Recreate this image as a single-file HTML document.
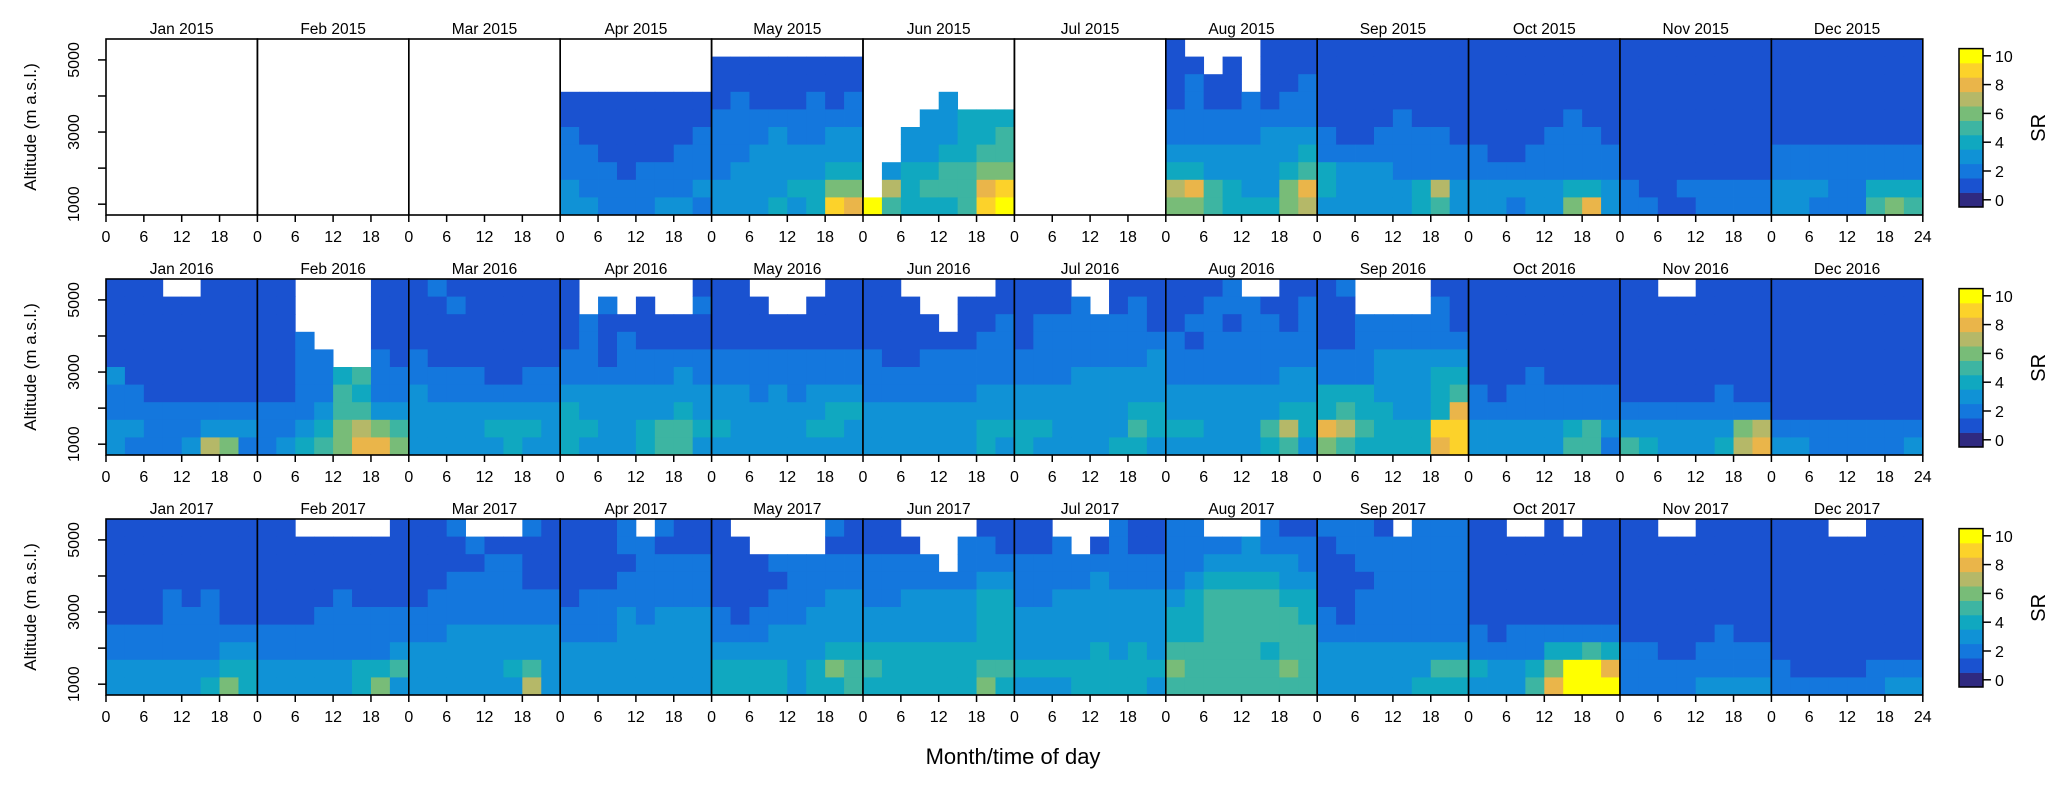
<!DOCTYPE html>
<html><head><meta charset="utf-8"><title>SR altitude/time heatmaps</title>
<style>
html,body{margin:0;padding:0;background:#fff;}
svg{display:block;font-family:"Liberation Sans",Arial,sans-serif;}
</style></head>
<body>
<svg id="chart" width="2067" height="796" viewBox="0 0 2067 796" xmlns="http://www.w3.org/2000/svg"></svg>
<script>
// ---- data ----
const years = [2015, 2016, 2017];
const months = ["Jan","Feb","Mar","Apr","May","Jun","Jul","Aug","Sep","Oct","Nov","Dec"];
const hourTicks = [0, 6, 12, 18];
const altTicks = [1000, 2000, 3000, 4000, 5000];
const altLabels = [1000, 3000, 5000];
const srTicks = [0, 2, 4, 6, 8, 10];
const srColors = ["#2f2a80","#1a52d0","#1477dd","#1092d6","#10a8c0","#3db5a2","#78bc78","#b5b868","#eab54a","#fcd22a","#ffff00"];
// each panel: 10 altitude levels (top -> bottom), 8 time blocks of 3h; digit = SR, a = 10, . = missing
const data2015 = [
 null, null, null,
 ["........","........","........","11111111","11111111","21111112","22111122","22212222","32222223","33222332"],
 ["........","11111111","11111111","12111212","22222222","22232233","22333333","23333344","33334466","33343498"],
 ["........","........","........","....3...","...33444","..333445","..334455",".3445566",".7455589","a544459a"],
 null,
 ["1....111","11.1.111","1211.112","12112122","22222222","22222333","33333334","44333345","78543368","66544467"],
 ["11111111","11111111","11111111","11111111","11112111","21122221","22222222","43332222","43333473","33333453"],
 ["11111111","11111111","11111111","11111111","11111211","11112221","21122222","22222222","33333443","33233683"],
 ["11111111","11111111","11111111","11111111","11111111","11111111","11111111","11111111","21122222","22112222"],
 ["11111111","11111111","11111111","11111111","11111111","11111111","22222222","22222222","33322444","33222565"]
];
const data2016 = [
 ["111..111","11111111","11111111","11111111","11111111","31111111","22111111","22222222","33222333","32223762"],
 ["11....11","11....11","11....11","112...11","1122..21","11224522","11225422","22235533","22346765","23456886"],
 ["12111111","11211111","11111111","11111111","21111111","22221122","32222222","33333333","33334443","33333433"],
 ["1......1","1.2.1..2","12111111","12121111","22122222","22222232","33333333","43333343","44334554","43334553"],
 ["11....11","111..111","11111111","11111111","22222222","22222222","33232333","33333344","43333443","33333333"],
 ["11.....1","111..111","1111.112","11111122","21122222","22222222","22222233","33333333","33333344","33333343"],
 ["111..111","1112.121","12222221","12222222","22222223","22233333","33333333","33333344","44333354","43333443"],
 ["1112..11","11222112","12212212","21222222","22222222","22222233","33333333","33333344","44333574","33333453"],
 ["12....11","11....21","11222221","11222222","22233333","22233344","44433345","45443348","87544499","65444489"],
 ["11111111","11111111","11111111","11111111","11111111","11121111","21222222","22222222","33333453","33333552"],
 ["11..1111","11111111","11111111","11111111","11111111","11111111","11111211","22222222","33333367","54333478"],
 ["11111111","11111111","11111111","11111111","11111111","11111111","11111111","11111111","22222222","33222223"]
];
const data2017 = [
 ["11111111","11111111","11111111","11111111","11121211","11122211","22222222","22222233","33333344","33333464"],
 ["11.....1","11111111","11111111","11111111","11112111","11122222","22222222","22222223","33333445","33333463"],
 ["112...21","11121111","11112211","11222211","12222222","22222222","22333333","33333333","33333453","33333373"],
 ["1112.211","11122111","11112222","11122222","12222222","22232333","22233333","33333333","33333333","33333333"],
 ["1.....21","11....11","11122222","11112222","11122233","21222333","22233333","33333344","44443465","44443445"],
 ["11....11","111..221","2222.222","22222233","22333344","33333344","33333344","44444444","54444455","44444464"],
 ["11...211","112.1211","22222222","22223222","22333333","33333333","33333333","33334343","44444444","33344443"],
 ["22...211","22223222","22333332","23444433","34555544","44555554","44555555","55555455","65555565","55555555"],
 ["2221.222","12222222","11222222","11122222","11222222","21222222","22222222","33333333","33333355","33333444"],
 ["11..1.11","11111111","11111111","11111111","11111111","11111111","21222222","22224454","43346aa8","33358aaa"],
 ["11..1111","11111111","11111111","11111111","11111111","11111111","11111211","22112222","22222222","22223333"],
 ["111..111","11111111","11111111","11111111","11111111","11111111","11111111","11111111","21111222","22222233"]
];
const allData = [data2015, data2016, data2017];

// ---- geometry ----
const NS = "http://www.w3.org/2000/svg";
const svg = document.getElementById("chart");
const X0 = 106, PW = 151.4, PH = 176;
const rowTop = [39, 279, 519];
const ALT_MIN = 700, ALT_MAX = 5580, HOURS = 24;
function xScale(m, h){ return X0 + m*PW + h/HOURS*PW; }
function yScale(r, alt){ return rowTop[r] + PH - (alt-ALT_MIN)/(ALT_MAX-ALT_MIN)*PH; }
function mk(tag, attrs, parent){ const e=document.createElementNS(NS,tag); for(const k in attrs) e.setAttribute(k, attrs[k]); (parent||svg).appendChild(e); return e; }
function val(ch){ return ch==="a" ? 10 : parseInt(ch,10); }

allData.forEach((rowData, r) => {
  const rowG = mk("g", {});
  
  
  rowData.forEach((grid, m) => {
    const g = mk("g", {}, rowG);
    
    
    if (grid) {
      const nLev = grid.length, levH = (ALT_MAX-ALT_MIN)/nLev;
      grid.forEach((rowStr, li) => {
        const altTop = ALT_MAX - li*levH, altBot = altTop - levH;
        const nT = rowStr.length, tW = HOURS/nT;
        for (let ti=0; ti<nT; ti++) {
          const ch = rowStr[ti];
          if (ch === ".") continue;
          const x1 = xScale(m, ti*tW), x2 = xScale(m, (ti+1)*tW);
          const y1 = yScale(r, altTop), y2 = yScale(r, altBot);
          const c = mk("rect", {x:x1.toFixed(2), y:y1.toFixed(2), width:(x2-x1+0.4).toFixed(2), height:(y2-y1+0.4).toFixed(2), fill:srColors[val(ch)]}, g);
          
          
        }
      });
    }
    const fr = mk("rect", {x:xScale(m,0), y:rowTop[r], width:PW, height:PH, fill:"none", stroke:"#000", "stroke-width":1.6}, g);
    
    
    const t = mk("text", {x:xScale(m,12), y:rowTop[r]-5, "text-anchor":"middle", "font-size":15.5, fill:"#000"}, g);
    t.textContent = months[m] + " " + years[r];
    
    
    const ticks = m === 11 ? hourTicks.concat([24]) : hourTicks;
    ticks.forEach(h => {
      const x = xScale(m, h), yb = rowTop[r]+PH;
      const tl = mk("line", {x1:x, x2:x, y1:yb, y2:yb+7, stroke:"#000", "stroke-width":1.5}, g);
      
      
      const tx = mk("text", {x:x, y:yb+27, "text-anchor":"middle", "font-size":16, fill:"#000"}, g);
      tx.textContent = h;
      
      
    });
  });
  altTicks.forEach(a => {
    const y = yScale(r, a);
    const yl = mk("line", {x1:X0-8, x2:X0, y1:y, y2:y, stroke:"#000", "stroke-width":1.5}, rowG);
    
    
  });
  altLabels.forEach(a => {
    const y = yScale(r, a);
    const yt = mk("text", {x:0, y:0, transform:`translate(79,${y}) rotate(-90)`, "text-anchor":"middle", "font-size":16, fill:"#000"}, rowG);
    yt.textContent = a;
    
    
  });
  const yTitle = mk("text", {x:0, y:0, transform:`translate(36,${rowTop[r]+PH/2}) rotate(-90)`, "text-anchor":"middle", "font-size":17, fill:"#000"}, rowG);
  yTitle.textContent = "Altitude (m a.s.l.)";
  
  

  const cb = mk("g", {}, rowG);
  
  
  const cbX = 1959, cbW = 24, cbBot = rowTop[r] + 168, unit = 14.4;
  srColors.forEach((col, i) => {
    const s = mk("rect", {x:cbX, y:cbBot-(i+1)*unit, width:cbW, height:unit+0.3, fill:col}, cb);
    
    
  });
  mk("rect", {x:cbX, y:cbBot-srColors.length*unit, width:cbW, height:srColors.length*unit, fill:"none", stroke:"#000", "stroke-width":1.5}, cb);
  srTicks.forEach(v => {
    const y = cbBot - (v+0.5)*unit;
    const l = mk("line", {x1:cbX+cbW, x2:cbX+cbW+8, y1:y, y2:y, stroke:"#000", "stroke-width":1.5}, cb);
    
    
    const tx = mk("text", {x:cbX+cbW+12, y:y+6, "font-size":16, fill:"#000"}, cb);
    tx.textContent = v;
    
    
  });
  const sr = mk("text", {x:0, y:0, transform:`translate(2045,${cbBot-5.5*unit}) rotate(-90)`, "text-anchor":"middle", "font-size":20, fill:"#000"}, cb);
  sr.textContent = "SR";
  
  
});

const xt = mk("text", {x:1013, y:764, "text-anchor":"middle", "font-size":22, fill:"#000"});
xt.textContent = "Month/time of day";


</script>
</body></html>
